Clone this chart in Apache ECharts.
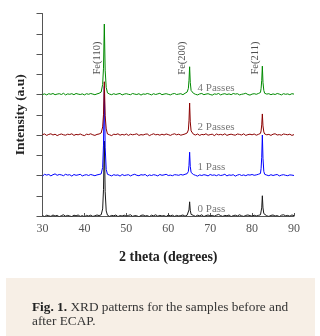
<!DOCTYPE html>
<html>
<head>
<meta charset="utf-8">
<script src="https://cdn.jsdelivr.net/npm/echarts@6/dist/echarts.min.js"></script>
<style>
  html, body { margin: 0; padding: 0; background: #fff; }
  #xrd { width: 320px; height: 336px; }
</style>
</head>
<body>
<div id="xrd"></div>
<script>
// 2 theta grid (degrees), finer around the three Fe peaks
var twoTheta = [
  30,30.5,31,31.5,32, 32.5,33,33.5,34,34.5, 35,35.5,36,36.5,37, 37.5,38,38.5,39,39.5, 40,40.5,41,41.5,42, 42.5,43,43.5,44,
  44.35,44.55,44.75,44.95,45.2,
  45.5,46,46.5,47,47.5, 48,48.5,49,49.5,50, 50.5,51,51.5,52,52.5, 53,53.5,54,54.5,55, 55.5,56,56.5,57,57.5, 58,58.5,59,59.5,60, 60.5,61,61.5,62,62.5, 63,63.5,64,64.5,
  64.8,64.95,65.1,65.25,65.45,
  66,66.5,67,67.5,68, 68.5,69,69.5,70,70.5, 71,71.5,72,72.5,73, 73.5,74,74.5,75,75.5, 76,76.5,77,77.5,78, 78.5,79,79.5,80,80.5, 81,81.5,82,
  82.15,82.3,82.45,82.6,82.8,
  83,83.5,84,84.5,85, 85.5,86,86.5,87,87.5, 88,88.5,89,89.5,90
];

// intensities (a.u.), relative to its own baseline
var pass0 = [
  0.02,-0.03,0.04,0.01,-0.02, 0.05,0.00,0.03,-0.04,0.02, 0.06,-0.01,0.03,0.00,-0.03, 0.04,0.01,0.05,-0.02,0.02, -0.04,0.03,0.00,0.04,-0.02, 0.01,0.05,0.02,0.06,
  0.35,1.3,3.7,1.2,0.25,
  0.04,-0.02,0.03,0.01,0.05, -0.03,0.02,0.00,0.04,-0.01, 0.03,0.06,-0.02,0.02,0.01, -0.04,0.03,0.05,0.00,0.02, -0.03,0.04,0.01,0.06,-0.01, 0.03,0.00,0.02,-0.03,0.05, 0.01,0.04,-0.02,0.03,0.00, 0.02,0.05,-0.01,0.04,
  0.1,0.3,0.7,0.28,0.08,
  0.03,-0.02,0.04,0.01,0.06, -0.03,0.02,0.05,0.00,0.03, -0.01,0.04,0.08,0.02,-0.02, 0.03,0.01,0.05,-0.03,0.02, 0.04,0.00,0.06,0.01,-0.02, 0.03,0.05,0.02,-0.01,0.04, 0.00,0.03,0.06,
  0.15,0.4,1.0,0.4,0.12,
  0.04,0.01,-0.02,0.03,0.05, 0.00,0.02,-0.03,0.04,0.06, 0.01,0.03,-0.01,0.05,0.02
];
var pass1 = [
  -0.03,0.06,0.02,0.05,-0.02, 0.04,0.08,0.01,0.05,0.03, -0.01,0.06,0.02,0.04,-0.03, 0.05,0.01,0.03,0.06,-0.02, 0.02,0.04,0.00,0.05,0.02, -0.01,0.03,0.05,0.08,
  0.4,1.5,4.4,1.4,0.3,
  0.06,0.02,-0.02,0.04,0.01, 0.03,-0.03,0.05,0.00,0.02, 0.04,-0.02,0.03,0.06,0.01, -0.01,0.04,0.02,0.05,-0.03, 0.03,0.00,0.04,0.02,-0.02, 0.05,0.01,0.03,0.06,0.00, 0.02,-0.01,0.04,0.03,0.01, 0.05,0.02,0.06,0.09,
  0.2,0.5,1.15,0.45,0.15,
  0.05,0.01,-0.03,0.03,0.00, 0.04,0.02,-0.02,0.05,0.01, 0.03,-0.01,0.04,0.00,0.02, 0.06,-0.02,0.03,0.01,0.04, -0.03,0.02,0.05,0.00,0.03, -0.01,0.04,0.02,0.05,0.01, 0.03,0.06,0.10,
  0.35,0.9,2.0,0.85,0.2,
  0.06,0.02,-0.01,0.04,0.00, 0.03,0.05,-0.02,0.02,0.04, 0.01,-0.01,0.03,0.02,0.00
];
var pass2 = [
  0.02,0.05,-0.02,0.03,0.06, 0.00,0.04,-0.03,0.02,0.05, 0.01,-0.01,0.04,0.02,0.06, -0.02,0.03,0.01,0.05,0.00, -0.03,0.04,0.02,0.06,0.01, -0.02,0.03,0.05,0.10,
  0.4,1.0,2.63,0.95,0.3,
  0.05,0.01,-0.03,0.04,0.02, 0.06,-0.01,0.03,0.00,0.05, -0.02,0.04,0.01,0.03,0.06, -0.02,0.02,0.00,0.04,0.05, -0.03,0.02,0.06,0.01,0.03, -0.01,0.04,0.00,0.05,0.02, -0.02,0.03,0.06,0.01,0.04, -0.01,0.02,0.05,0.10,
  0.25,0.7,1.58,0.65,0.2,
  0.04,0.00,0.05,-0.02,0.03, 0.01,0.06,-0.01,0.02,0.04, -0.03,0.05,0.01,0.03,0.00, 0.06,-0.02,0.02,0.04,0.01, -0.01,0.05,0.03,0.00,0.06, -0.02,0.02,0.04,0.01,0.05, -0.01,0.03,0.08,
  0.2,0.5,1.04,0.45,0.15,
  0.05,0.01,0.03,-0.02,0.04, 0.06,0.00,0.02,-0.01,0.05, 0.03,0.01,0.04,-0.02,0.02
];
var pass4 = [
  0.00,0.03,-0.02,0.04,0.01, 0.05,-0.01,0.02,0.04,0.00, 0.06,-0.02,0.03,0.01,0.04, -0.01,0.05,0.02,0.00,0.03, -0.02,0.04,0.01,0.05,0.02, -0.01,0.03,0.06,0.12,
  0.5,1.3,3.48,1.2,0.35,
  0.08,0.02,-0.01,0.04,0.00, 0.03,0.05,-0.02,0.02,0.04, 0.01,-0.01,0.05,0.02,0.00, 0.04,-0.03,0.03,0.01,0.05, 0.02,-0.02,0.04,0.00,0.03, 0.06,-0.01,0.02,0.04,0.01, -0.02,0.03,0.05,0.00,0.02, 0.04,-0.01,0.06,0.12,
  0.3,0.7,1.37,0.6,0.2,
  0.06,0.01,-0.02,0.03,0.05, -0.01,0.02,0.04,0.00,-0.03, 0.03,0.01,0.05,-0.02,0.02, 0.04,0.00,0.03,-0.01,0.05, 0.02,0.04,-0.02,0.01,0.03, 0.06,0.00,-0.03,0.02,0.04, 0.01,0.05,0.10,
  0.3,0.7,1.4,0.6,0.2,
  0.06,0.02,0.04,-0.01,0.03, 0.00,0.05,0.02,-0.02,0.04, 0.01,0.03,-0.01,0.04,0.02
];

var passNames = ['0 Pass', '1 Pass', '2 Passes', '4 Passes'];
var passOffsets = [0, 2, 4, 6];
var passColors = ['#1a1a1a', '#0000ff', '#8b0000', '#008a00'];
var passLabelAt = [[67, 0.35], [67, 2.43], [67, 4.4], [67, 6.32]];

var peakNames = ['Fe(110)', 'Fe(200)', 'Fe(211)'];
var peakLabelAt = [[43.1, 7.8], [63.3, 7.8], [80.7, 7.8]];

var xTicks = [30, 40, 50, 60, 70, 80, 90];

var serif = '"Liberation Serif", "DejaVu Serif", serif';

var patterns = [pass0, pass1, pass2, pass4];
var series = [];
for (var s = 0; s < patterns.length; s++) {
    var pts = [];
    for (var i = 0; i < twoTheta.length; i++) {
        pts.push([twoTheta[i], patterns[s][i] + passOffsets[s]]);
    }
    series.push({
        name: passNames[s],
        type: 'line',
        showSymbol: false,
        silent: true,
        lineStyle: { width: 1, color: passColors[s] },
        data: pts
    });
}

// pass names beside each pattern
series.push({
    type: 'scatter',
    symbolSize: 0,
    silent: true,
    data: passNames.map(function (n, k) { return { name: n, value: passLabelAt[k] }; }),
    label: {
        show: true,
        position: 'right',
        distance: 0,
        formatter: '{b}',
        fontFamily: serif,
        fontSize: 11,
        color: '#555'
    }
});

// reflection labels, rotated
series.push({
    type: 'scatter',
    symbolSize: 0,
    silent: true,
    data: peakNames.map(function (n, k) { return { name: n, value: peakLabelAt[k] }; }),
    label: {
        show: true,
        position: 'inside',
        rotate: 90,
        formatter: '{b}',
        fontFamily: serif,
        fontSize: 10.5,
        color: '#222'
    }
});

var option = {
    animation: false,
    backgroundColor: '#fff',
    grid: { left: 42.5, right: 26, top: 13.5, bottom: 120 },
    xAxis: {
        type: 'value',
        min: xTicks[0],
        max: xTicks[xTicks.length - 1],
        interval: 10,
        name: '2 theta (degrees)',
        nameLocation: 'middle',
        nameGap: 34,
        nameTextStyle: { fontFamily: serif, fontSize: 14, fontWeight: 'bold', color: '#222' },
        axisLine: { lineStyle: { color: '#555', width: 1 } },
        axisTick: { inside: true, length: 3, lineStyle: { color: '#555' } },
        axisLabel: { fontFamily: serif, fontSize: 12, color: '#555', margin: 7 },
        splitLine: { show: false }
    },
    yAxis: {
        type: 'value',
        min: 0,
        max: 10,
        interval: 1,
        name: 'Intensity (a.u)',
        nameLocation: 'middle',
        nameGap: 15,
        nameTextStyle: { fontFamily: serif, fontSize: 13.5, fontWeight: 'bold', color: '#222' },
        axisLine: { show: true, lineStyle: { color: '#555', width: 1 } },
        axisTick: { show: true, length: 6, lineStyle: { color: '#555' } },
        axisLabel: { show: false },
        splitLine: { show: false }
    },
    graphic: [
        {
            type: 'rect',
            left: 6, top: 278,
            shape: { width: 309, height: 58 },
            style: { fill: '#f7efe6' },
            silent: true
        },
        {
            type: 'text',
            left: 32, top: 300,
            style: {
                text: '{b|Fig. 1.} XRD patterns for the samples before and\nafter ECAP.',
                fontFamily: serif,
                fontSize: 13.3,
                lineHeight: 14.5,
                fill: '#333',
                rich: {
                    b: { fontFamily: serif, fontSize: 13.3, fontWeight: 'bold', fill: '#222' }
                }
            },
            silent: true
        }
    ],
    series: series
};

var chart = echarts.init(document.getElementById('xrd'));
chart.setOption(option);
</script>
</body>
</html>
